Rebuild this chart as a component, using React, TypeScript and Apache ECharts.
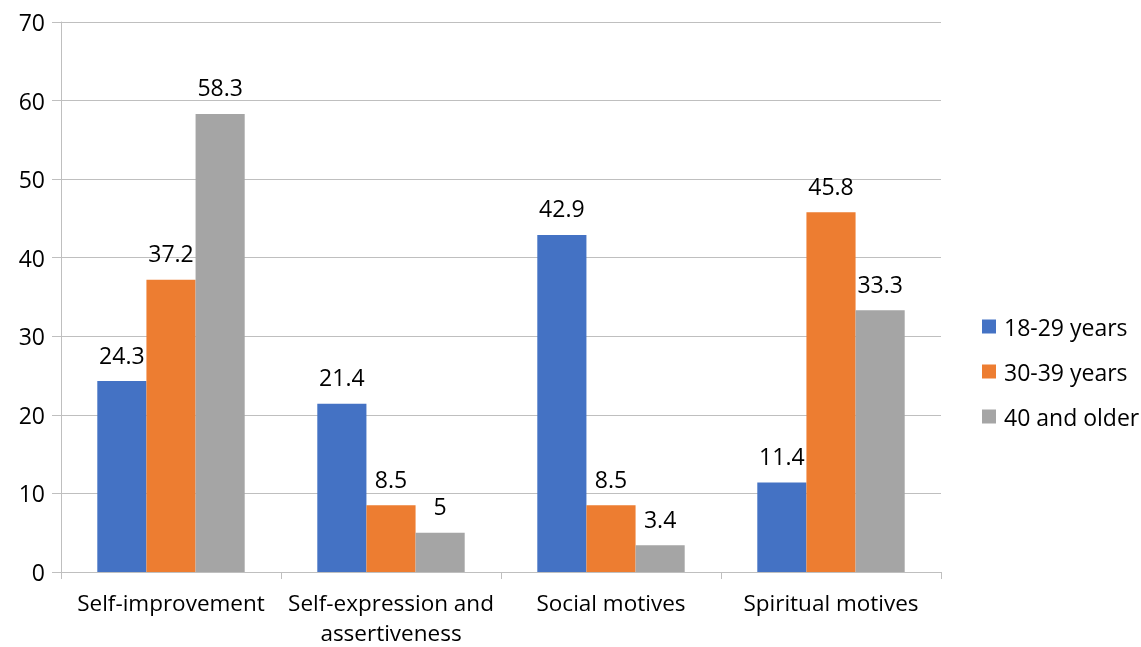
import React, { useEffect, useRef } from "react";
import * as echarts from "echarts";

const categories = ["Self-improvement", "Self-expression and\nassertiveness", "Social motives", "Spiritual motives"];
const seriesNames = ["18-29 years", "30-39 years", "40 and older"];
const values18to29 = [24.3, 21.4, 42.9, 11.4];
const values30to39 = [37.2, 8.5, 8.5, 45.8];
const values40plus = [58.3, 5, 3.4, 33.3];
const colors = ["#4472C4", "#ED7D31", "#A5A5A5"];

const FONT = "Open Sans";

export default function App() {
  const ref = useRef<HTMLDivElement>(null);
  useEffect(() => {
    if (!ref.current) return;
    const chart = echarts.init(ref.current, undefined, { renderer: "svg" });
    const datasets = [values18to29, values30to39, values40plus];
    chart.setOption({
      animation: false,
      textStyle: { fontFamily: FONT },
      grid: { left: 61, right: 200, top: 22, bottom: 75, containLabel: false, outerBoundsMode: "none" },
      legend: {
        orient: "vertical",
        left: 982,
        top: 315,
        padding: 0,
        itemWidth: 14,
        itemHeight: 14,
        itemGap: 22,
        icon: "rect",
        data: seriesNames,
        textStyle: { fontFamily: FONT, fontSize: 23, color: "#000", lineHeight: 23, padding: [0, 0, 0, 3] },
      },
      xAxis: {
        type: "category",
        data: categories,
        axisLine: { show: true, lineStyle: { color: "#BFBFBF", width: 1 } },
        axisTick: { show: true, length: 7, lineStyle: { color: "#BFBFBF" } },
        axisLabel: { fontFamily: FONT, fontSize: 22.5, color: "#000", margin: 15, lineHeight: 30.5, interval: 0 },
      },
      yAxis: {
        type: "value",
        min: 0,
        max: 70,
        interval: 10,
        axisLine: { show: true, lineStyle: { color: "#BFBFBF", width: 1 } },
        axisTick: { show: true, length: 9, lineStyle: { color: "#BFBFBF" } },
        splitLine: { show: true, lineStyle: { color: "#BFBFBF", width: 1 } },
        axisLabel: { fontFamily: FONT, fontSize: 23, color: "#000", margin: 16 },
      },
      series: seriesNames.map((name, i) => ({
        name,
        type: "bar",
        data: datasets[i],
        barGap: "0%",
        barCategoryGap: "33%",
        itemStyle: { color: colors[i] },
        label: {
          show: true,
          position: "top",
          distance: 15,
          fontFamily: FONT,
          fontSize: 23,
          color: "#000",
        },
      })),
    });
    return () => chart.dispose();
  }, []);
  return <div ref={ref} style={{ position: "fixed", left: 0, top: 0, width: 1141, height: 647 }} />;
}
